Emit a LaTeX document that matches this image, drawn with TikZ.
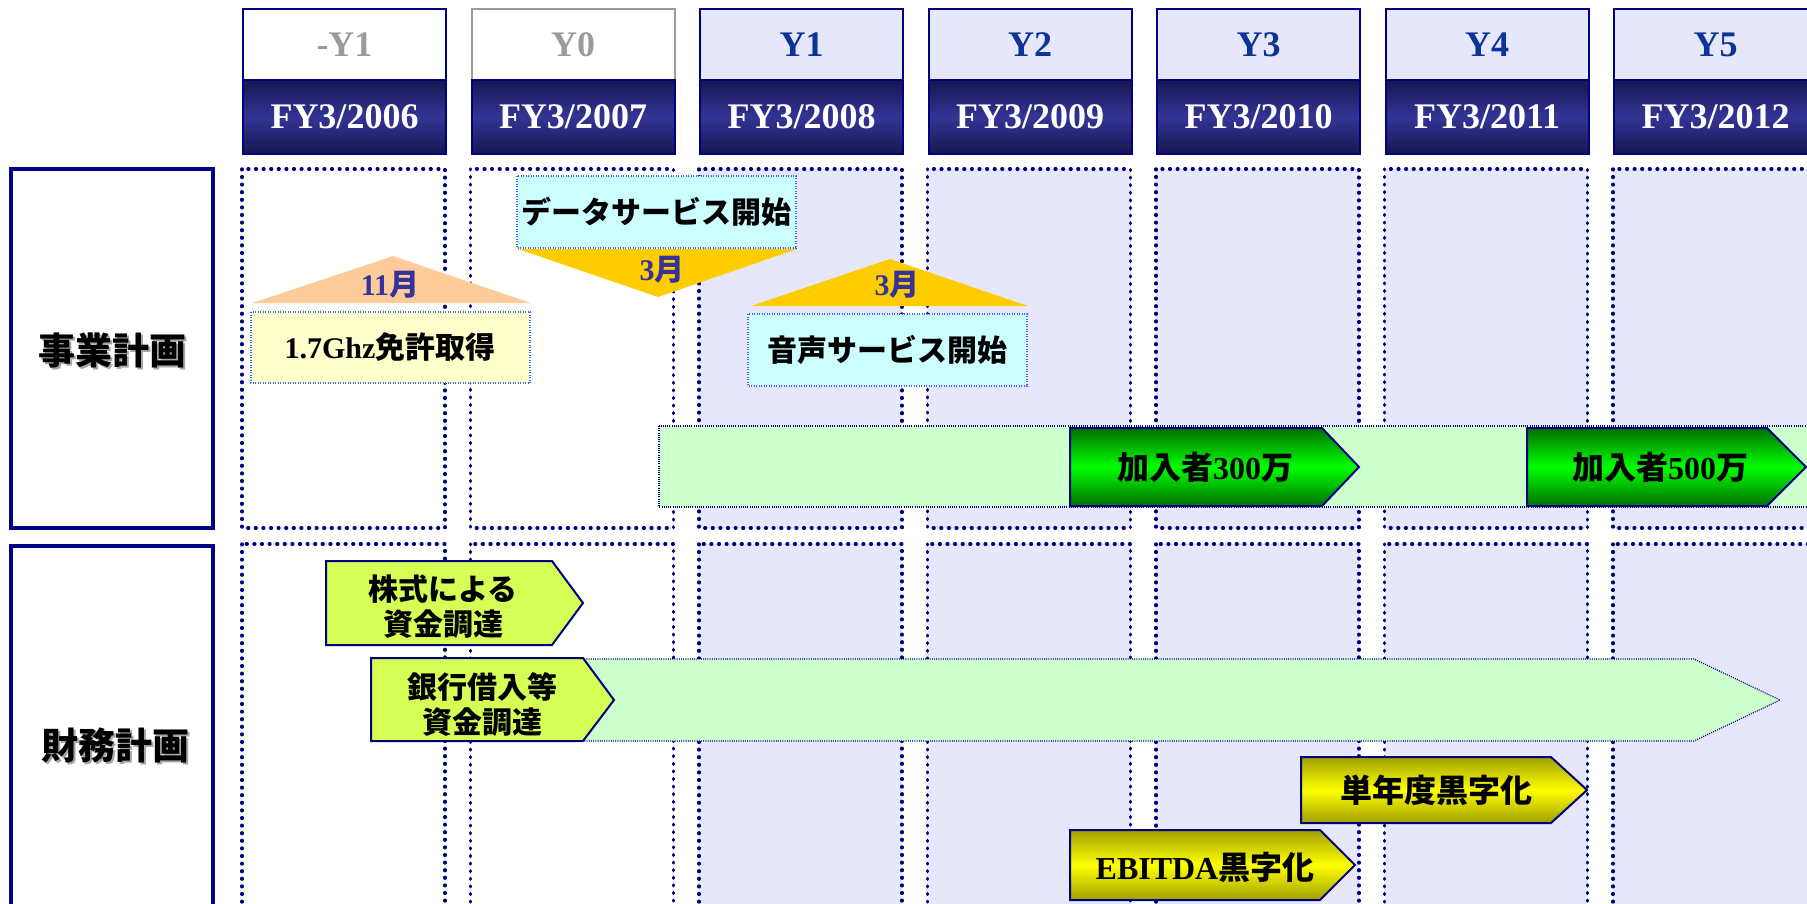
\documentclass[tikz,border=0pt]{standalone}
\usepackage{fontspec}
\setmainfont{Liberation Serif}
\newfontfamily\jp{Noto Sans CJK JP}
\newcommand\J[1]{{\jp #1}}
\newcommand\fsz[1]{\fontsize{#1}{#1}\selectfont}
\definecolor{navy}{RGB}{0,0,128}
\definecolor{hdark}{RGB}{22,22,80}
\definecolor{hmid}{RGB}{52,52,150}
\definecolor{lav}{RGB}{230,231,250}
\definecolor{ytxt}{RGB}{12,52,150}
\definecolor{gtxt}{RGB}{155,155,155}
\definecolor{peach}{RGB}{255,204,153}
\definecolor{gold}{RGB}{255,204,0}
\definecolor{lyellow}{RGB}{255,255,204}
\definecolor{lcyan}{RGB}{204,255,255}
\definecolor{lgreen}{RGB}{204,255,204}
\definecolor{lime}{RGB}{214,255,85}
\definecolor{gdark}{RGB}{0,112,0}
\definecolor{gbright}{RGB}{0,255,0}
\definecolor{ydark}{RGB}{160,160,0}
\definecolor{ybright}{RGB}{255,255,0}
\definecolor{month}{RGB}{51,51,153}
\definecolor{dotblue}{RGB}{60,100,255}
\begin{document}
\begin{tikzpicture}[x=1pt,y=-1pt,
  hdtop/.style={rectangle, anchor=north west, minimum width=203pt, minimum height=71pt, inner sep=0pt, line width=2pt, font=\fsz{36}\bfseries},
  hdbot/.style={rectangle, anchor=north west, minimum width=203pt, minimum height=74pt, inner sep=0pt, line width=2pt, draw=navy, top color=hdark, bottom color=hdark, middle color=hmid, text=white, font=\fsz{36}\bfseries},
  colbox/.style={draw=navy, line width=3.4pt, line cap=round, dash pattern=on 0.8pt off 6.8pt},
  rowlabel/.style={draw=navy, line width=4pt},
  band/.style={fill=lgreen, draw=navy, line width=1.2pt, dash pattern=on 1pt off 1.2pt},
  infobox/.style={draw=dotblue, line width=1.4pt, dash pattern=on 1pt off 1.5pt},
  greenarrow/.style={draw=navy, line width=2pt, top color=gdark, bottom color=gdark, middle color=gbright},
  yellowarrow/.style={draw=navy, line width=2pt, top color=ydark, bottom color=ydark, middle color=ybright},
  limearrow/.style={draw=navy, line width=2pt, fill=lime},
  txt/.style={inner sep=0pt, font=\fsz{30}\bfseries, text=black},
  mon/.style={inner sep=0pt, font=\fsz{30}\bfseries, text=month},
  big/.style={inner sep=0pt, font=\fsz{37}\bfseries\jp}
]
\useasboundingbox (0,0) rectangle (1807,903);
\clip (0,0) rectangle (1807,903);
\fill[white] (0,0) rectangle (1807,903);

% column boxes
\foreach \i in {0,...,6} {
  \pgfmathsetmacro\xx{242+228.5*\i}
  \ifnum\i<2
    \draw[colbox] (\xx,169) rectangle ++(203,359);
    \draw[colbox] (\xx,544) rectangle ++(203,400);
  \else
    \draw[colbox, fill=lav] (\xx,169) rectangle ++(203,359);
    \draw[colbox, fill=lav] (\xx,544) rectangle ++(203,400);
  \fi
}

% headers
\node[hdtop, draw=navy, fill=white, text=gtxt] (ht0) at (242,8) {-Y1};
\node[hdtop, draw=gtxt, fill=white, text=gtxt] (ht1) at (470.5,8) {Y0};
\foreach \i/\t in {2/Y1,3/Y2,4/Y3,5/Y4,6/Y5} {
  \pgfmathsetmacro\xx{242+228.5*\i}
  \node[hdtop, draw=navy, fill=lav, text=ytxt] (ht\i) at (\xx,8) {\t};
}
\foreach \i/\f in {0/2006,1/2007,2/2008,3/2009,4/2010,5/2011,6/2012} {
  \pgfmathsetmacro\xx{242+228.5*\i}
  \node[hdbot] (hb\i) at (\xx,79) {FY3/\f};
}

% row labels
\draw[rowlabel, fill=white] (11,169) rectangle (213,528);
\draw[rowlabel, fill=white] (11,546) rectangle (213,940);
\node[big, text=gray!70] (lab1s) at (114.5,352.5) {事業計画};
\node[big] (lab1) at (112,350) {事業計画};
\node[big, text=gray!70] (lab2s) at (117.5,747.5) {財務計画};
\node[big] (lab2) at (115,745) {財務計画};

% row 1
\draw[band] (659,426) rectangle (1830,507);
\draw[greenarrow] (1070,428) -- (1322,428) -- (1359,467) -- (1322,506) -- (1070,506) -- cycle;
\node[txt, font=\fsz{32}\bfseries] (sub300) at (1205,467) {\J{加入者}300\J{万}};
\draw[greenarrow] (1527,428) -- (1767,428) -- (1806,467) -- (1767,506) -- (1527,506) -- cycle;
\node[txt, font=\fsz{32}\bfseries] (sub500) at (1660,467) {\J{加入者}500\J{万}};

\fill[peach] (252,303) -- (531,303) -- (393,256) -- cycle;
\node[mon] (m11) at (390,285) {11\J{月}};
\draw[infobox, fill=lyellow] (251,312) rectangle (530,383);
\node[txt] (lic) at (390,347) {1.7Ghz\J{免許取得}};

\draw[infobox, fill=lcyan] (517,176) rectangle (796,248);
\node[txt] (data) at (656,212) {\J{データサービス開始}};
\fill[gold] (518,249) -- (797,249) -- (658,297) -- cycle;
\node[mon] (m3a) at (662,270) {3\J{月}};

\fill[gold] (751,306) -- (1028,306) -- (890,259) -- cycle;
\node[mon] (m3b) at (897,285) {3\J{月}};
\draw[infobox, fill=lcyan] (748,314) rectangle (1027,386);
\node[txt] (voice) at (887,350) {\J{音声サービス開始}};

% row 2
\draw[band] (560,659) -- (1694,659) -- (1780,700) -- (1694,741) -- (560,741) -- cycle;
\draw[limearrow] (326,561) -- (552,561) -- (583,603) -- (552,645) -- (326,645) -- cycle;
\node[txt, align=center, font=\fsz{30}\bfseries\jp] (kabu) at (443,607) {株式による\\[5pt]資金調達};
\draw[limearrow] (371,658) -- (583,658) -- (614,700) -- (583,741) -- (371,741) -- cycle;
\node[txt, align=center, font=\fsz{30}\bfseries\jp] (bank) at (482,704) {銀行借入等\\[5pt]資金調達};

\draw[yellowarrow] (1301,757) -- (1551,757) -- (1587,790) -- (1551,823) -- (1301,823) -- cycle;
\node[txt, font=\fsz{32}\bfseries\jp] (tan) at (1436,790) {単年度黒字化};
\draw[yellowarrow] (1070,830) -- (1320,830) -- (1355,865) -- (1320,900) -- (1070,900) -- cycle;
\node[txt, font=\fsz{32}\bfseries] (ebitda) at (1205,867) {EBITDA\J{黒字化}};
\end{tikzpicture}
\end{document}
